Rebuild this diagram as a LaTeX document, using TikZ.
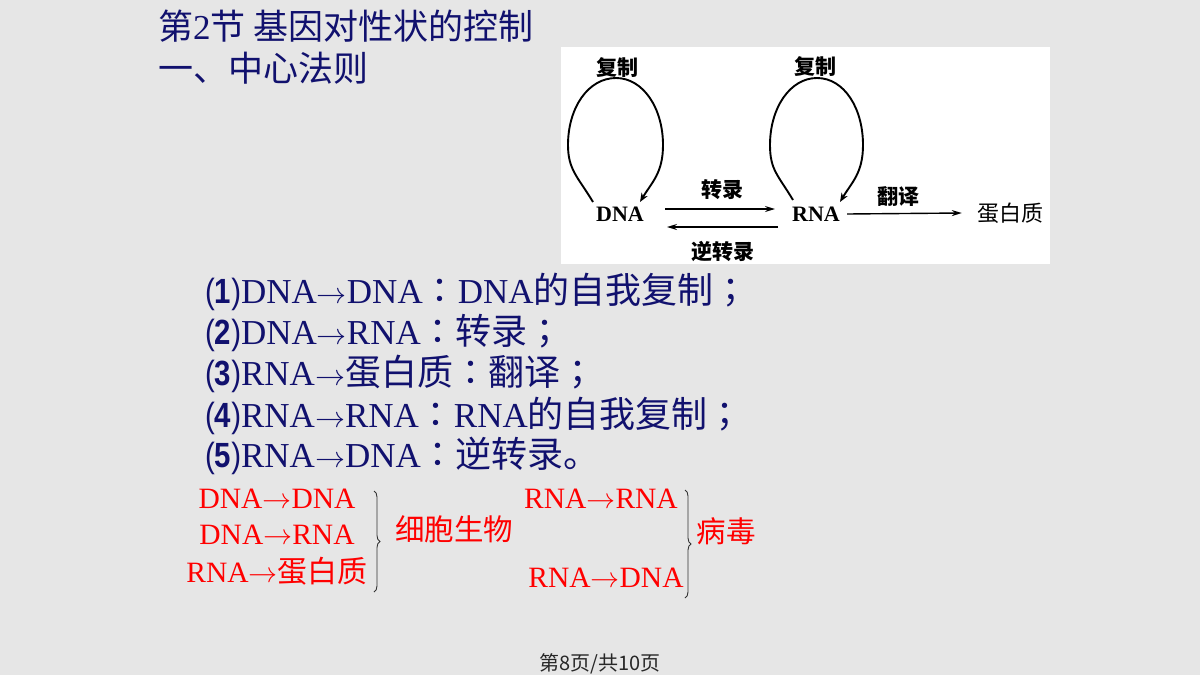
\documentclass[tikz,border=0pt]{standalone}
\usepackage{fontspec}
\usepackage{graphicx}
\setmainfont{Liberation Serif}
\newfontfamily\cjk{Noto Sans CJK SC}
\newfontfamily\cjkp{Noto Sans CJK TC}
\newfontfamily\sans{Liberation Sans}
\newfontfamily\arr{latinmodern-math.otf}
\usetikzlibrary{arrows.meta,decorations.pathreplacing}
\newcommand\fsz[1]{\fontsize{#1}{#1}\selectfont}
\newcommand\mainarr{{\arr\fsz{30}→}}
\newcommand\redarr{{\arr\fsz{29}→}}
\newcommand\num[1]{{\sans\scalebox{0.84}[1]{(\textbf{#1})}}}
\newcommand\pcolon{{\cjkp ：}}
\newcommand\psemi{{\cjkp ；}}
\definecolor{navy}{RGB}{17,17,110}
\definecolor{bggray}{RGB}{230,230,230}
\definecolor{brgray}{RGB}{50,50,50}
\definecolor{foot}{RGB}{40,40,40}
\begin{document}
\begin{tikzpicture}[x=1pt,y=-1pt,
  title/.style={anchor=base west,inner sep=0pt,text=navy,font=\cjk\fsz{35}},
  mainline/.style={anchor=base west,inner sep=0pt,text=navy,font=\fsz{35}},
  redtxt/.style={anchor=base,inner sep=0pt,text=red,font=\fsz{29.5}},
  lbl/.style={inner sep=0pt,font=\cjk\bfseries\fsz{21}},
  mol/.style={inner sep=1pt,font=\bfseries\fsz{22}},
  loopar/.style={line width=1.9pt,-{Stealth[length=9pt,width=7pt]}},
  flow/.style={line width=1.4pt,-{Stealth[length=10pt,width=6pt]}},
  brc/.style={decorate,decoration={brace,amplitude=6pt},line width=0.9pt,draw=brgray}]
\fill[bggray] (0,0) rectangle (1200,675);
\useasboundingbox (0,0) rectangle (1200,675);

% titles
\node[title] (t1) at (158,39) {第{\rmfamily 2}节 基因对性状的控制};
\node[title] (t2) at (158,81) {一、中心法则};

% inner figure
\fill[white] (561,47) rectangle (1050,264);
\node[mol] (DNA) at (620,214) {DNA};
\node[mol] (RNA) at (816,214) {RNA};
\node[inner sep=1pt,font=\cjk\fsz{22}] (prot) at (1010,213) {蛋白质};
\node[lbl] (c1) at (617,68) {复制};
\node[lbl] (c2) at (815,67) {复制};
\node[lbl] (tr) at (722,190) {转录};
\node[lbl] (rt) at (723,251) {逆转录};
\node[lbl] (tl) at (898,197) {翻译};

\draw[loopar] ([shift={(-27,-12)}]DNA.center)
   .. controls +(-15,-25) and +(0,25) .. ([shift={(-52,-69)}]DNA.center)
   .. controls +(0,-37) and +(-28,0) .. ([shift={(-4,-136)}]DNA.center)
   .. controls +(27,0) and +(0,-37) .. ([shift={(43,-69)}]DNA.center)
   .. controls +(0,28) and +(12,-20) .. ([shift={(20,-12)}]DNA.center);
\draw[loopar] ([shift={(-23,-14)}]RNA.center)
   .. controls +(-15,-25) and +(0,25) .. ([shift={(-46,-69)}]RNA.center)
   .. controls +(0,-37) and +(-27,0) .. ([shift={(1,-136)}]RNA.center)
   .. controls +(27,0) and +(0,-37) .. ([shift={(47,-69)}]RNA.center)
   .. controls +(0,28) and +(12,-20) .. ([shift={(24,-12)}]RNA.center);
\draw[flow] ([shift={(45,-5)}]DNA.center) -- ([shift={(-41,-5)}]RNA.center);
\draw[flow] ([shift={(-38,13)}]RNA.center) -- ([shift={(47,13)}]DNA.center);
\draw[flow] ([xshift=6pt]RNA.east) -- ([xshift=-14pt]prot.west);

% numbered lines
\node[mainline] (l1) at (205,303) {\num{1}DNA\mainarr DNA\pcolon DNA{\cjk\fsz{36}的自我复制}\psemi};
\node[mainline] (l2) at (205,344) {\num{2}DNA\mainarr RNA\pcolon{\cjk\fsz{36}转录}\psemi};
\node[mainline] (l3) at (205,385) {\num{3}RNA\mainarr{\cjk\fsz{36}蛋白质}\pcolon{\cjk\fsz{36}翻译}\psemi};
\node[mainline] (l4) at (205,427) {\num{4}RNA\mainarr RNA\pcolon RNA{\cjk\fsz{36}的自我复制}\psemi};
\node[mainline] (l5) at (205,467) {\num{5}RNA\mainarr DNA\pcolon{\cjk\fsz{36}逆转录。}};

% red summary
\node[redtxt] (r1) at (277,508) {DNA\redarr DNA};
\node[redtxt] (r2) at (277,544) {DNA\redarr RNA};
\node[redtxt] (r3) at (277,582) {RNA\redarr{\cjk\fsz{30}蛋白质}};
\node[redtxt,font=\cjk\fsz{29.5}] (cell) at (454,540) {细胞生物};
\node[redtxt] (r4) at (601,508) {RNA\redarr RNA};
\node[redtxt] (r5) at (606,587) {RNA\redarr DNA};
\node[redtxt,font=\cjk\fsz{29.5}] (vir) at (726,542) {病毒};
\coordinate (b1t) at (374,491);
\coordinate (b1b) at (374,592);
\coordinate (b2t) at (685,490);
\coordinate (b2b) at (685,598);
\draw[brc] (b1t) -- (b1b);
\draw[brc] (b2t) -- (b2b);

% footer
\node[inner sep=0pt,text=foot,font=\cjk\fsz{20}] (ft) at (600,664) {第8页/共10页};
\end{tikzpicture}
\end{document}
